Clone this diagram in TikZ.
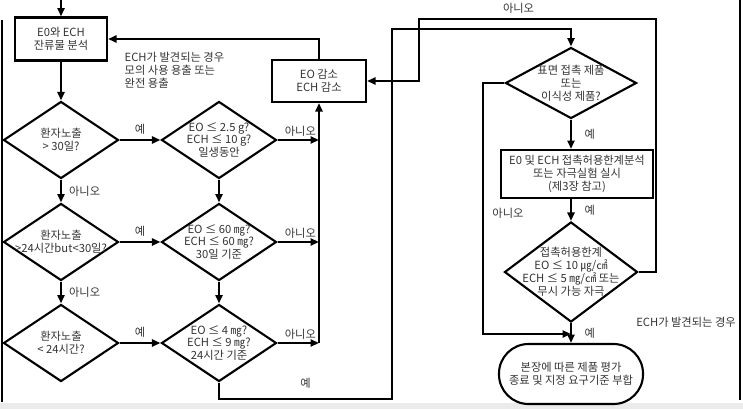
\documentclass[tikz,border=0pt]{standalone}
\usepackage{fontspec}
\setmainfont{Noto Sans CJK KR}
\usepackage{tikz}
\usetikzlibrary{positioning,arrows.meta,shapes.geometric,calc}

\begin{document}
\begin{tikzpicture}[x=0.025cm, y=-0.025cm,
  font=\fontsize{8}{9.2}\selectfont,
  blk/.style={rectangle, draw, line width=1.5pt, inner sep=1pt, align=center, text=black!80},
  dec/.style={diamond, draw, line width=1.5pt, inner sep=0pt,
              minimum width=2.875cm, minimum height=1.925cm},
  lbl/.style={align=center, text=black!80, inner sep=0pt},
  term/.style={rectangle, rounded corners=0.74cm, draw, line width=1.5pt,
               minimum width=3.6cm, minimum height=1.5cm, align=center, text=black!80},
  ea/.style={-{Triangle[length=6pt,width=5pt]}, line width=1.5pt},
  anno/.style={text=black!80, inner sep=1pt, align=left}
]
\useasboundingbox (0,0) rectangle (743,409);
\fill[black!8] (0,403) rectangle (743,409);
\draw[line width=2pt] (2,20) -- (2,402);
\draw[line width=1.5pt] (740,0) -- (740,400);

\node[blk, minimum width=2.3cm, minimum height=1.075cm] (anal) at (61,39) {E0와 ECH\\잔류물 분석};
\node[blk, minimum width=2.35cm, minimum height=1.05cm] (red) at (319,81) {EO 감소\\ECH 감소};
\node[anno, anchor=west] (note) at (123,70) {ECH가 발견되는 경우\\모의 사용 용출 또는\\완전 용출};

\node[dec, label={[lbl]center:{환자노출\\> 30일?}}] (d1) at (61,140) {};
\node[dec, label={[lbl]center:{환자노출\\>24시간but<30일?}}] (d2) at (61,242) {};
\node[dec, label={[lbl]center:{환자노출\\< 24시간?}}] (d3) at (61,343) {};

\node[dec, label={[lbl]center:{EO ≤ 2.5 g?\\ECH ≤ 10 g?\\일생동안}}] (m1) at (219,140) {};
\node[dec, label={[lbl]center:{EO ≤ 60 ㎎?\\ECH ≤ 60 ㎎?\\30일 기준}}] (m2) at (219,242) {};
\node[dec, label={[lbl]center:{EO ≤ 4 ㎎?\\ECH ≤ 9 ㎎?\\24시간 기준}}] (m3) at (219,343) {};

\node[dec, minimum width=3.275cm, minimum height=1.775cm,
      label={[lbl]center:{표면 접촉 제품\\또는\\이식성 제품?}}] (s1) at (571,83) {};
\node[blk, minimum width=3.8cm, minimum height=1.2cm] (box) at (577,174)
      {E0 및 ECH 접촉허용한계분석\\또는 자극실험 실시\\(제3장 참고)};
\node[dec, minimum width=3.325cm, minimum height=2.5cm,
      label={[lbl]center:{접촉허용한계\\EO ≤ 10 ㎍/㎠\\ECH ≤ 5 ㎎/㎠ 또는\\무시 가능 자극}}] (s2) at (571,272) {};
\node[term] (term) at (571,374) {본장에 따른 제품 평가\\종료 및 지정 요구기준 부합};
\node[anno] (found) at (686,322) {ECH가 발견되는 경우};

\coordinate (in0) at (61,0);
\coordinate (yesbot) at (392,399);
\coordinate (yestop) at (392,29);
\coordinate (nol) at (483,334);
\coordinate (nr) at (656,19);
\coordinate (nl) at (419,19);

\draw[ea] (in0) -- (anal);
\draw[ea] (anal) -- (d1);
\draw[ea] (d1) -- node[anno, right=4pt] {아니오} (d2);
\draw[ea] (d2) -- node[anno, right=4pt] {아니오} (d3);
\draw[ea] (d1) -- node[anno, above=2pt] {예} (m1);
\draw[ea] (d2) -- node[anno, above=2pt] {예} (m2);
\draw[ea] (d3) -- node[anno, above=2pt] {예} (m3);
\draw[ea] (m1) -- (m2);
\draw[ea] (m2) -- (m3);
\draw[ea] (m1) -- node[anno, pos=0.55, above=1pt] {아니오} (m1 -| red.south);
\draw[ea] (m2) -- node[anno, pos=0.55, above=1pt] {아니오} (m2 -| red.south);
\draw[ea] (m3) -- node[anno, pos=0.55, above=1pt] {아니오} (m3 -| red.south);
\draw[ea] (m3 -| red.south) -- (red);
\draw[ea] (red.north) |- (anal.east);

\draw[ea] (m3.south) |- node[anno, pos=0.75, above=6pt] {예} (yesbot) -- (yestop) -| (s1.north);
\draw[ea] (s1) -- node[anno, right=8pt] {예} (s1.south |- box.north);
\draw[ea] (s1.south |- box.south) -- node[anno, right=8pt] {예} (s2);
\draw[ea] (s2) -- node[anno, right=8pt] {예} (term);
\draw[ea] (s1.west) -| node[anno, pos=0.76, right=5pt] {아니오} (nol) -- (nol -| s2.south);
\draw[ea] (s2.east) -| (nr) -- node[anno, pos=0.58, above=2pt] {아니오} (nl) |- (red.east);
\end{tikzpicture}
\end{document}
